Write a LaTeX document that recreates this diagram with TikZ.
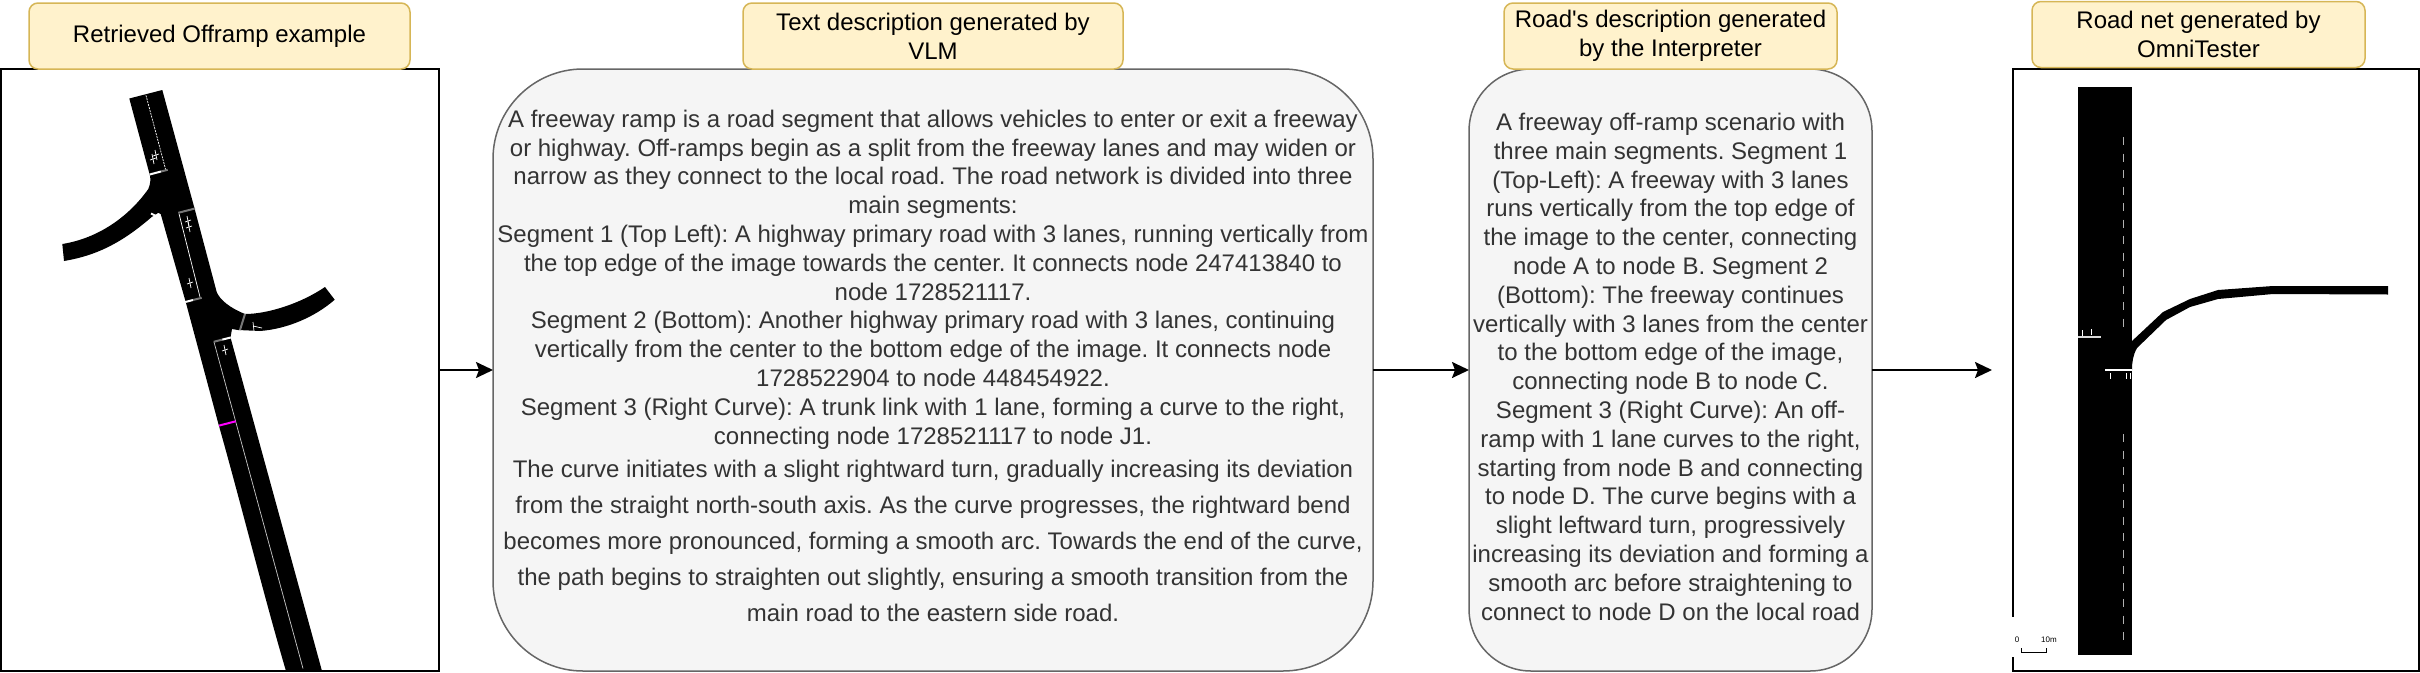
\documentclass[tikz,border=0pt]{standalone}
\usepackage{fontspec}
\setmainfont{Liberation Sans}
\usetikzlibrary{positioning,arrows.meta}

\begin{document}
\frenchspacing
\begin{tikzpicture}[
      x=1pt, y=-1pt,
      node distance=0pt,
      outer sep=0pt,
      title node/.style={draw=titleedge, fill=titlefill, line width=1.5pt, rounded corners=9pt, align=center, minimum height=66pt, inner sep=0pt, font=\fontsize{24}{29}\selectfont},
      text node/.style={draw=textedge, fill=textfill, text=textink, line width=1.5pt, align=center, inner sep=0pt, minimum height=602pt, font=\fontsize{24}{28.8}\selectfont},
      image node/.style={draw, line width=2pt, minimum height=602pt, inner sep=0pt},
      flow/.style={line width=2pt, -{Stealth[length=17pt, width=16pt, inset=3pt]}},
      road/.style={fill=black},
      lane/.style={white, line width=.7pt},
      gate/.style={white, line width=2pt},
      gate off/.style={roadgray, line width=2pt}
    ]
    \definecolor{titleedge}{HTML}{D6B656}
    \definecolor{titlefill}{HTML}{FFF2CC}
    \definecolor{textedge}{HTML}{666666}
    \definecolor{textfill}{HTML}{F5F5F5}
    \definecolor{textink}{HTML}{333333}
    \definecolor{roadgray}{HTML}{777777}
    \definecolor{cutmark}{HTML}{FF00FF}
    \useasboundingbox (0,0) rectangle (2420,672);

    % Frames and text boxes
    \node (imgleft) [image node, minimum width=438pt] at (219.5,370) {};
    \node (vlmtext) [text node, minimum width=880pt, rounded corners=90pt] at (933,370) {%
      A freeway ramp is a road segment that allows vehicles to enter or exit a freeway\\
      or highway. Off-ramps begin as a split from the freeway lanes and may widen or\\
      narrow as they connect to the local road. The road network is divided into three\\
      main segments:\\
      Segment 1 (Top Left): A highway primary road with 3 lanes, running vertically from\\
      the top edge of the image towards the center. It connects node 247413840 to\\
      node 1728521117.\\
      Segment 2 (Bottom): Another highway primary road with 3 lanes, continuing\\
      vertically from the center to the bottom edge of the image. It connects node\\
      1728522904 to node 448454922.\\
      Segment 3 (Right Curve): A trunk link with 1 lane, forming a curve to the right,\\
      connecting node 1728521117 to node J1.\\[5pt]
      The curve initiates with a slight rightward turn, gradually increasing its deviation\\[7pt]
      from the straight north-south axis. As the curve progresses, the rightward bend\\[7pt]
      becomes more pronounced, forming a smooth arc. Towards the end of the curve,\\[7pt]
      the path begins to straighten out slightly, ensuring a smooth transition from the\\[7pt]
      main road to the eastern side road.\rule[-9pt]{0pt}{9pt}};
    \node (roadtext) [text node, minimum width=403pt, rounded corners=62pt] at (1670.5,370) {%
      A freeway off-ramp scenario with\\
      three main segments. Segment 1\\
      (Top-Left): A freeway with 3 lanes\\
      runs vertically from the top edge of\\
      the image to the center, connecting\\
      node A to node B. Segment 2\\
      (Bottom): The freeway continues\\
      vertically with 3 lanes from the center\\
      to the bottom edge of the image,\\
      connecting node B to node C.\\
      Segment 3 (Right Curve): An off-\\
      ramp with 1 lane curves to the right,\\
      starting from node B and connecting\\
      to node D. The curve begins with a\\
      slight leftward turn, progressively\\
      increasing its deviation and forming a\\
      smooth arc before straightening to\\
      connect to node D on the local road\rule[-7pt]{0pt}{7pt}};
    \node (imgright) [image node, minimum width=406pt] at (2216,370) {};
    \fill[white] (2008,617) rectangle (2030,657);

    % Titles
    \node (titleleft) [title node, minimum width=381pt, above=of imgleft] {Retrieved Offramp example};
    \node (titlevlm) [title node, minimum width=380pt, above=of vlmtext] {Text description generated by\\VLM};
    \node (titleroad) [title node, minimum width=333pt, above=of roadtext] {Road\textquotesingle s description generated\\by the Interpreter};
    \node (titlenet) [title node, minimum width=333pt, above=1.5pt of imgright, xshift=-17.5pt] {Road net generated by\\OmniTester};

    % Arrows
    \coordinate (netin) at (1992,370);
    \draw[flow] (imgleft) -- (vlmtext);
    \draw[flow] (vlmtext) -- (roadtext);
    \draw[flow] (roadtext) -- (netin);

    % Retrieved road
    \fill[road] (129.3,98.5) -- (162.3,90) -- (194.3,207.6) -- (216.7,292)
      .. controls (220,300) and (230,308) .. (245,314)
      .. controls (267,314) and (300,304) .. (325,287)
      -- (334.7,299.7) .. controls (315,317) and (287,329) .. (260,331)
      -- (238,330) -- (232,329) -- (230.5,337.5) -- (322,671) -- (286,671)
      .. controls (265,600) and (240,500) .. (218.3,423.5)
      -- (186,303) -- (160.7,214) -- (158.3,212.8) -- (151.7,217)
      .. controls (125,240) and (100,255) .. (64,261)
      -- (62.3,244) .. controls (100,238) and (130,215) .. (148.3,189)
      .. controls (151,182) and (151,178) .. (149,172) -- cycle;
    \draw[lane, dash pattern=on 2pt off 1pt] (146,95.4) -- (165.7,169.8);
    \draw[lane] (179,213.7) -- (200,297);
    \draw[lane, roadgray!40] (214,342) -- (303,668.5);
    \draw[gate] (149.7,174.5) -- (161,171.5);
    \draw[gate off] (161,171.5) -- (167.7,169.8);
    \draw[gate off] (178.3,212.8) -- (195,208.5);
    \draw[gate] (185.3,302) -- (193,300);
    \draw[gate off] (193,300) -- (201.7,297.8);
    \draw[gate off] (213.7,341.8) -- (222.3,339.6);
    \draw[gate] (222.3,339.6) -- (230.7,337.5);
    \draw[gate off] (245,314) -- (240,330);
    \draw[gate] (151,213.5) -- (156,216);
    \draw[cutmark, line width=2pt] (219,425.6) -- (235.7,421.3);
    \foreach \mx/\my in {153/159, 156/155, 188/221, 189/227, 190/283, 225/350} {
      \draw[lane] (\mx-1,\my-5) -- (\mx+1,\my+5);
      \draw[lane] (\mx-3,\my+1) -- (\mx+3,\my-1);
    }
    \draw[lane] (253,322) -- (254,331);
    \draw[lane] (253,326) -- (262,328);

    % Generated road
    \fill[road] (2078,87) rectangle (2132,655);
    \fill[road] (2132,341) -- (2163,312) -- (2190,299) -- (2218,290) -- (2273,286) -- (2388,286)
      -- (2388,294.5) -- (2273,294) -- (2218,299) -- (2190,307) -- (2166,320)
      -- (2137,348) .. controls (2133,355) and (2132,362) .. (2132,370) -- cycle;
    \draw[lane, line width=.8pt, gray!60, dash pattern=on 8pt off 8.5pt] (2123,137) -- (2123,330);
    \draw[lane, line width=.8pt, gray!60, dash pattern=on 8pt off 8.5pt] (2123,434) -- (2123,645);
    \draw[gate, line width=1.2pt, white!85!black] (2078,337) -- (2101,337);
    \draw[gate, line width=1.2pt] (2105,370) -- (2132,370);
    \foreach \mx/\my in {2091/332, 2082/333, 2110/376, 2126/376, 2130/376} {
      \draw[lane] (\mx,\my-3) -- (\mx,\my+3);
    }
    \node (zero) [font=\fontsize{8}{9}\selectfont, inner sep=0pt] at (2017,640) {0};
    \node (ten) [font=\fontsize{8}{9}\selectfont, inner sep=0pt] at (2049,640) {10m};
    \draw[line width=.7pt] (2021.5,648) -- (2021.5,652) -- (2046,652) -- (2046,648);
  \end{tikzpicture}
\end{document}
